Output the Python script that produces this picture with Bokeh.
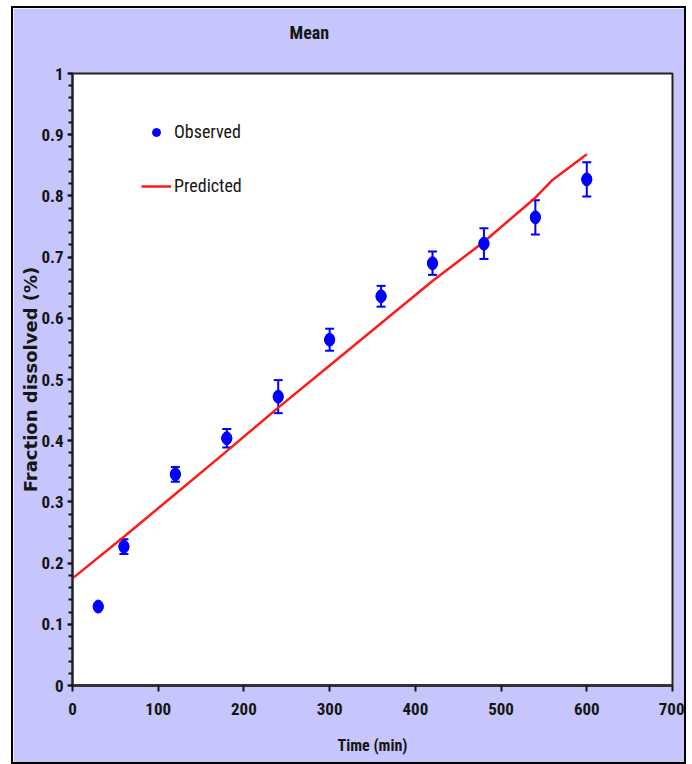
from bokeh.plotting import figure
from bokeh.models import (Range1d, SingleIntervalTicker, Whisker, ColumnDataSource,
                          Legend, LegendItem, TeeHead, Title)
from bokeh.embed import file_html
from bokeh.resources import INLINE

# ---- data ----
time_min = [30, 60, 120, 180, 240, 300, 360, 420, 480, 540, 600]
observed = [0.129, 0.227, 0.345, 0.404, 0.472, 0.565, 0.636, 0.690, 0.722, 0.765, 0.827]
obs_err = [0.004, 0.012, 0.012, 0.015, 0.027, 0.018, 0.017, 0.019, 0.025, 0.028, 0.028]

pred_time = [0, 60, 120, 180, 240, 300, 360, 420, 480, 540, 560, 600]
predicted = [0.175, 0.243, 0.313, 0.383, 0.454, 0.523, 0.592, 0.661, 0.725, 0.797, 0.826, 0.868]

x_ticks_interval = 100
y_ticks_interval = 0.1
title_text = "Mean"

NARROW = "Liberation Sans Narrow, Roboto Condensed, Liberation Sans"
LAVENDER = "#c6c6fc"
INK = "#151515"

src = ColumnDataSource(dict(
    x=time_min, y=observed,
    upper=[o + e for o, e in zip(observed, obs_err)],
    lower=[o - e for o, e in zip(observed, obs_err)],
))

p = figure(width=675, height=758,
           x_range=Range1d(0, 700), y_range=Range1d(0, 1),
           output_backend="svg", toolbar_location=None,
           min_border_left=59, min_border_right=16,
           min_border_top=65, min_border_bottom=81,
           background_fill_color="white", border_fill_color=LAVENDER,
           margin=(6, 0, 0, 11),
           styles={"border": "2px solid black", "box-sizing": "border-box"})

p.grid.visible = False
p.outline_line_color = "#222222"
p.outline_line_width = 2

# visible title
p.title.text = title_text
p.title.align = "left"
p.title.offset = 217
p.title.standoff = 0
p.title.text_font = NARROW
p.title.text_font_size = "18px"
p.title.text_font_style = "bold"
p.title.text_color = INK
# blank spacer title between the visible title and the frame
p.add_layout(Title(text=" ", text_font_size="10px", standoff=18), "above")

# x axis
xa = p.xaxis[0]
xa.ticker = SingleIntervalTicker(interval=x_ticks_interval, num_minor_ticks=0)
xa.axis_label = "Time (min)"
xa.axis_label_text_font = NARROW
xa.axis_label_text_font_size = "16px"
xa.axis_label_text_font_style = "bold"
xa.axis_label_text_color = INK
xa.axis_label_standoff = 18
xa.major_label_text_font = NARROW
xa.major_label_text_font_size = "17px"
xa.major_label_text_font_style = "bold"
xa.major_label_text_color = INK
xa.major_label_standoff = 11
xa.axis_line_width = 3
xa.axis_line_color = "#333333"
xa.major_tick_in = 0
xa.major_tick_out = 6
xa.major_tick_line_width = 2
xa.major_tick_line_color = INK
xa.minor_tick_line_color = None

# y axis
ya = p.yaxis[0]
ya.ticker = SingleIntervalTicker(interval=y_ticks_interval, num_minor_ticks=5)
ya.axis_label = "Fraction dissolved (%)"
ya.axis_label_text_font = "DejaVu Sans"
ya.axis_label_text_font_size = "18px"
ya.axis_label_text_font_style = "bold"
ya.axis_label_text_color = INK
ya.axis_label_standoff = -3
ya.major_label_text_font = NARROW
ya.major_label_text_font_size = "17px"
ya.major_label_text_font_style = "bold"
ya.major_label_text_color = INK
ya.major_label_standoff = 4
ya.major_label_overrides = {0: "0", 1: "1"}
ya.axis_line_width = 2
ya.axis_line_color = "#222222"
ya.major_tick_in = 0
ya.major_tick_out = 5
ya.major_tick_line_width = 2
ya.major_tick_line_color = INK
ya.minor_tick_in = 0
ya.minor_tick_out = 4
ya.minor_tick_line_width = 2
ya.minor_tick_line_color = INK

# predicted line
r_line = p.line(pred_time, predicted, line_color="#ff1a1a", line_width=2.5)

# error bars
p.add_layout(Whisker(source=src, base="x", upper="upper", lower="lower",
                     line_color="blue", line_width=2,
                     upper_head=TeeHead(size=9, line_color="blue", line_width=2),
                     lower_head=TeeHead(size=9, line_color="blue", line_width=2)))

# observed points (circle marker for legend, ellipse on top for the tall dot shape)
r_pts = p.scatter("x", "y", source=src, size=10, marker="circle",
                  fill_color="blue", line_color="blue")
p.ellipse("x", "y", source=src, width=10, height=13,
          width_units="screen", height_units="screen",
          fill_color="blue", line_color="blue")

legend = Legend(items=[LegendItem(label="Observed", renderers=[r_pts]),
                       LegendItem(label="Predicted", renderers=[r_line])],
                location=(69, 489), border_line_color=None,
                background_fill_alpha=0, padding=0, margin=0,
                glyph_width=30, glyph_height=20, label_height=20,
                spacing=33, label_standoff=3,
                label_text_font=NARROW, label_text_font_size="18px",
                label_text_color=INK)
p.add_layout(legend)

open("out.html", "w").write(file_html(p, INLINE))
